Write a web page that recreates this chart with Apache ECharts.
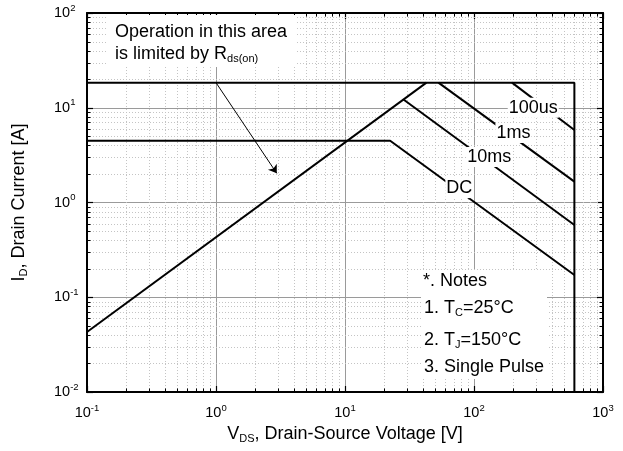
<!DOCTYPE html>
<html><head><meta charset="utf-8">
<script src="https://cdn.jsdelivr.net/npm/echarts@6/dist/echarts.min.js"></script>
<style>html,body{margin:0;padding:0;background:#fff}#c{width:623px;height:451px}</style>
</head><body><div id="c"></div>
<script>
// ---- data ----
const limitV = [0.1, 600, 600];
const limitI = [18.4, 18.4, 0.01];
const rdsV = [0.1, 42.8];
const rdsI = [0.043, 18.4];
const us100V = [197, 600];
const us100I = [18.4, 5.82];
const ms1V = [53, 600];
const ms1I = [18.4, 1.66];
const ms10V = [28.4, 600];
const ms10I = [12.2, 0.579];
const dcV = [0.1, 22.4, 600];
const dcI = [4.49, 4.49, 0.172];
const labelNames = ['100us', '1ms', '10ms', 'DC'];
const labelV = [288, 202, 131.5, 77];
const labelI = [10, 5.4, 3.02, 1.42];
const arrowFrom = [1, 18.4];
const arrowTo = [2.96, 2.03];
const xDecades = [0.1, 1, 10, 100];
const yDecades = [0.01, 0.1, 1, 10];
const minorMult = [2, 3, 4, 5, 6, 7, 8, 9];

const FONT = 'Liberation Sans, Arial, sans-serif';
const pair = (xs, ys) => xs.map((v, i) => [v, ys[i]]);
const minorX = [], minorY = [];
xDecades.forEach(d => minorMult.forEach(m => minorX.push([d * m, 1])));
yDecades.forEach(d => minorMult.forEach(m => minorY.push([1, d * m])));

function expFmt(v) {
  const e = Math.round(Math.log10(v));
  return '{b|10}{s|' + e + '}';
}
const tickRich = {
  b: { fontSize: 14.5, fontFamily: FONT, color: '#000', lineHeight: 20 },
  s: { fontSize: 9.5, fontFamily: FONT, color: '#000', lineHeight: 8, verticalAlign: 'top' }
};
const textRich = {
  a: { fontSize: 18, fontFamily: FONT, color: '#000', fill: '#000', lineHeight: 20 },
  u: { fontSize: 11, fontFamily: FONT, color: '#000', fill: '#000', lineHeight: 6, verticalAlign: 'bottom' }
};

function minorRender(dim) {
  return function (params, api) {
    const cs = params.coordSys;
    const grid = { stroke: '#c4c4c4', lineWidth: 1, lineDash: [1, 2] };
    const tick = { stroke: '#000', lineWidth: 1 };
    if (dim === 'x') {
      const px = Math.round(api.coord([api.value(0), 1])[0]) + 0.5;
      const b = cs.y + cs.height, t = cs.y;
      return { type: 'group', children: [
        { type: 'line', shape: { x1: px, y1: t, x2: px, y2: b }, style: grid },
        { type: 'line', shape: { x1: px, y1: b, x2: px, y2: b - 3.5 }, style: tick },
        { type: 'line', shape: { x1: px, y1: t, x2: px, y2: t + 3.5 }, style: tick }
      ] };
    } else {
      const py = Math.round(api.coord([1, api.value(1)])[1]) + 0.5;
      const l = cs.x, r = cs.x + cs.width;
      return { type: 'group', children: [
        { type: 'line', shape: { x1: l, y1: py, x2: r, y2: py }, style: grid },
        { type: 'line', shape: { x1: l, y1: py, x2: l + 3.5, y2: py }, style: tick },
        { type: 'line', shape: { x1: r, y1: py, x2: r - 3.5, y2: py }, style: tick }
      ] };
    }
  };
}

function labelRender(params, api) {
  const p = api.coord([api.value(0), api.value(1)]);
  return {
    type: 'text', x: p[0], y: p[1],
    style: {
      text: labelNames[params.dataIndex], font: '18px ' + FONT, fill: '#000',
      align: 'center', verticalAlign: 'middle',
      backgroundColor: '#fff', padding: [1, 1]
    }
  };
}

const lineStyle = { color: '#000', width: 2 };
function curve(xs, ys, extra) {
  return Object.assign({
    type: 'line', data: pair(xs, ys), symbol: 'none', lineStyle: lineStyle,
    itemStyle: { color: '#000' }, z: 5, silent: true, animation: false
  }, extra || {});
}

const axisCommon = {
  type: 'log', logBase: 10,
  axisLine: { show: true, onZero: false, lineStyle: { color: '#000', width: 2 } },
  axisTick: { show: true, inside: true, length: 6, lineStyle: { color: '#000', width: 1.2 } }
};

const chart = echarts.init(document.getElementById('c'), null, { renderer: 'canvas' });
chart.setOption({
  animation: false,
  backgroundColor: '#fff',
  grid: { left: 87, right: 20, top: 13, bottom: 59 },
  xAxis: [
    Object.assign({}, axisCommon, {
      min: 0.1, max: 1000, position: 'bottom',
      axisLabel: { formatter: expFmt, rich: tickRich, margin: 11 },
      splitLine: { show: true, lineStyle: { color: '#9a9a9a', width: 1 } },
      name: '{a|V}{u|DS}{a|, Drain-Source Voltage [V]}',
      nameLocation: 'middle', nameGap: 32,
      nameTextStyle: { rich: textRich }
    }),
    Object.assign({}, axisCommon, {
      min: 0.1, max: 1000, position: 'top',
      axisLabel: { show: false }, splitLine: { show: false }
    })
  ],
  yAxis: [
    Object.assign({}, axisCommon, {
      min: 0.01, max: 100, position: 'left',
      axisLabel: { formatter: expFmt, rich: tickRich, margin: 33, align: 'left' },
      splitLine: { show: true, lineStyle: { color: '#9a9a9a', width: 1 } },
      name: '{a|I}{u|D}{a|, Drain Current [A]}',
      nameLocation: 'middle', nameGap: 58,
      nameTextStyle: { rich: textRich }
    }),
    Object.assign({}, axisCommon, {
      min: 0.01, max: 100, position: 'right',
      axisLabel: { show: false }, splitLine: { show: false }
    })
  ],
  series: [
    { type: 'custom', data: minorX, renderItem: minorRender('x'), z: 1, silent: true, encode: { x: 0, y: 1 } },
    { type: 'custom', data: minorY, renderItem: minorRender('y'), z: 1, silent: true, encode: { x: 0, y: 1 } },
    curve(limitV, limitI),
    curve(rdsV, rdsI, {
      markLine: {
        silent: true, symbol: ['none', 'arrow'], symbolSize: 8,
        label: { show: false },
        lineStyle: { color: '#000', width: 1, type: 'solid' },
        data: [[{ coord: arrowFrom }, { coord: arrowTo }]]
      }
    }),
    curve(us100V, us100I),
    curve(ms1V, ms1I),
    curve(ms10V, ms10I),
    curve(dcV, dcI),
    {
      type: 'custom', z: 10, silent: true, encode: { x: 0, y: 1 },
      data: pair(labelV, labelI), renderItem: labelRender
    }
  ],
  graphic: [
    { type: 'rect', z: 50, shape: { x: 108, y: 15, width: 188, height: 52 }, style: { fill: '#fff' } },
    { type: 'text', z: 51, x: 115, y: 32, style: {
      text: 'Operation in this area', font: '18px ' + FONT, fill: '#000', verticalAlign: 'middle' } },
    { type: 'text', z: 51, x: 115, y: 54, style: {
      text: '{a|is limited by R}{u|ds(on)}', verticalAlign: 'middle', rich: textRich } },
    { type: 'rect', z: 50, shape: { x: 421, y: 270, width: 126, height: 109 }, style: { fill: '#fff' } },
    { type: 'text', z: 51, x: 423, y: 281, style: {
      text: '*. Notes', font: '18px ' + FONT, fill: '#000', verticalAlign: 'middle' } },
    { type: 'text', z: 51, x: 424, y: 308, style: {
      text: '{a|1. T}{u|C}{a|=25°C}', verticalAlign: 'middle', rich: textRich } },
    { type: 'text', z: 51, x: 424, y: 340, style: {
      text: '{a|2. T}{u|J}{a|=150°C}', verticalAlign: 'middle', rich: textRich } },
    { type: 'text', z: 51, x: 424, y: 367, style: {
      text: '3. Single Pulse', font: '18px ' + FONT, fill: '#000', verticalAlign: 'middle' } }
  ]
});
</script>
</body></html>
